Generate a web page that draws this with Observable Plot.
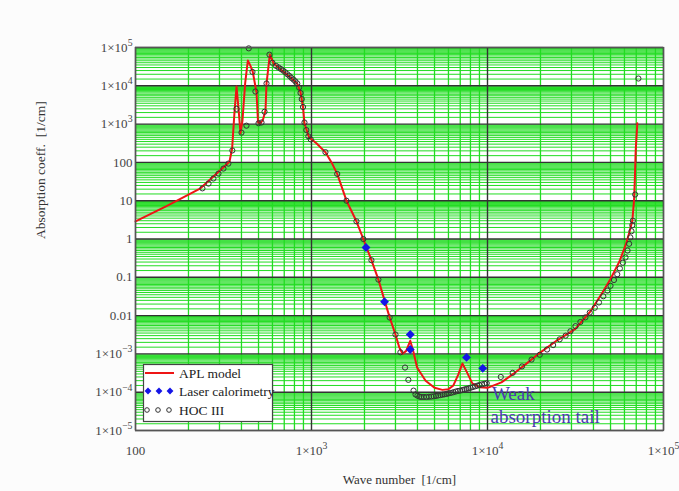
<!DOCTYPE html>
<html>
<head>
<meta charset="utf-8">
<script src="https://cdn.jsdelivr.net/npm/d3@7"></script>
<script src="https://cdn.jsdelivr.net/npm/@observablehq/plot@0.6"></script>
<style>
  body { margin: 0; background: #fcfcfc; }
  #wrap { position: relative; width: 679px; height: 491px; font-family: "Liberation Serif", serif; }
  #legend { position: absolute; left: 0; top: 0; }
</style>
</head>
<body>
<div id="wrap"></div>
<script>
// ---- Data ----
const aplX = [100,150,234,300,342,354,365,375,385,395,405,420,435,450,464,487,497,513,530,548,555,580,611,697,795,830,866,895,912,966,1070,1200,1300,1400,1580,1800,1970,2190,2400,2600,2780,3000,3150,3290,3450,3640,3800,3980,4450,5000,5540,6000,6400,6800,7200,7600,8200,9000,10000,12000,14000,17000,20000,25000,31600,38500,45000,50000,56000,61000,64000,66500,68000,68700,69500,71000];
const aplY = [2.9,7.2,21,60,104,230,2000,9600,2500,580,1200,12000,46000,33000,23000,6800,1100,1050,1300,2300,11300,66000,37500,23000,13800,11300,6800,2800,1050,460,310,185,100,50,10,2.9,1.0,0.28,0.087,0.025,0.009,0.0032,0.0015,0.001,0.0012,0.0022,0.0011,4.4e-4,2.0e-4,1.3e-4,1.15e-4,1.2e-4,1.5e-4,2.8e-4,5.6e-4,3.5e-4,1.7e-4,1.35e-4,1.3e-4,1.8e-4,3.0e-4,6e-4,1.1e-3,2.3e-3,4.5e-3,0.013,0.04,0.09,0.25,0.7,1.5,3,10,34,200,1050];

const hocX = [240,260,277,296,316,337,355,375,400,427,440,462,480,500,520,541,555,577,600,630,650,670,690,710,730,750,770,790,810,830,850,866,880,895,912,935,960,990,1200,1400,1580,1800,1970,2190,2400,2780,3000,3200,3400,3550,3800,3900,4000,4100,4200,4350,4500,4650,4800,4950,5100,5250,5400,5550,5700,5850,6000,6200,6400,6600,6800,7000,7200,7400,7600,7800,8000,8250,8500,8750,9000,9300,9600,9900,11900,13900,15700,17800,19800,21800,23600,25700,27800,29600,31600,33700,36000,38100,40700,43000,45500,48000,50000,52300,54600,56500,58800,60800,62500,63800,64800,65800,66500,67000,69000,72000];
const hocY = [21,28,38,51,69,93,205,2500,600,910,95000,23000,7100,1050,1100,2100,11500,65000,40000,33000,30000,27500,25000,22500,20000,18000,16000,14500,13000,11500,9000,6500,4500,2800,1100,700,480,400,185,50,10,2.9,1.0,0.28,0.087,0.0089,0.0032,0.0011,4.4e-4,2.1e-4,1.1e-4,8.7e-5,8.1e-5,7.7e-5,7.5e-5,7.5e-5,7.5e-5,7.6e-5,7.7e-5,7.8e-5,8.0e-5,8.2e-5,8.4e-5,8.6e-5,8.8e-5,9.0e-5,9.3e-5,9.6e-5,1.0e-4,1.04e-4,1.08e-4,1.1e-4,1.14e-4,1.18e-4,1.22e-4,1.26e-4,1.3e-4,1.36e-4,1.42e-4,1.48e-4,1.54e-4,1.6e-4,1.66e-4,1.72e-4,2.5e-4,3.2e-4,4.7e-4,7.1e-4,9.5e-4,1.3e-3,1.7e-3,2.4e-3,3.0e-3,3.9e-3,5.3e-3,6.8e-3,9e-3,0.012,0.016,0.022,0.032,0.045,0.06,0.085,0.12,0.17,0.24,0.33,0.5,0.75,1.1,1.6,2.3,3.0,14.5,15500];

const laserX = [2040,2600,3640,3640,7600,9400];
const laserY = [0.6,0.023,0.0032,0.0013,8.1e-4,4.2e-4];

const xTicks = [100,1000,10000,100000];
const xTickLabels = ["100","1×10^3","1×10^4","1×10^5"];
const yTicks = [1e-5,1e-4,1e-3,0.01,0.1,1,10,100,1000,1e4,1e5];
const yTickLabels = ["1×10^−5","1×10^−4","1×10^−3","0.01","0.1","1","10","100","1×10^3","1×10^4","1×10^5"];

const seriesNames = ["APL model","Laser calorimetry","HOC III"];
const annotText = ["Weak","absorption tail"];
const annotX = [10600,10400];
const annotY = [9.3e-5,2.2e-5];

const xLabel = "Wave number  [1/cm]";
const yLabel = "Absorption coeff.  [1/cm]";

// ---- Build tables ----
const apl = aplX.map((x,i)=>({x, y: aplY[i]}));
const hoc = hocX.map((x,i)=>({x, y: hocY[i]}));
const laser = laserX.map((x,i)=>({x, y: laserY[i]}));
const annots = annotText.map((t,i)=>({t, x: annotX[i], y: annotY[i]}));

// grid positions
const minorX = [];
for (let d = 2; d < 5; d++) for (let k = 2; k <= 9; k++) minorX.push(k * 10 ** d);
const minorY = [];
for (let d = -5; d < 5; d++) for (let k = 1.5; k < 10; k += 0.5) minorY.push(k * 10 ** d);

const green = "#22dc22";
const chart = Plot.plot({
  width: 679, height: 491,
  marginLeft: 135, marginRight: 16, marginTop: 47, marginBottom: 61,
  style: { fontFamily: "Liberation Serif, serif", fontSize: "13px", background: "transparent", color: "#444" },
  x: { type: "log", domain: [100, 1e5] },
  y: { type: "log", domain: [1e-5, 1e5] },
  marks: [
    Plot.frame({ fill: "white", stroke: null }),
    Plot.ruleY(minorY, { stroke: green, strokeWidth: 1 }),
    Plot.ruleX(minorX, { stroke: green, strokeWidth: 1.3 }),
    Plot.ruleY(yTicks, { stroke: "#333", strokeWidth: 1.4 }),
    Plot.ruleX(xTicks, { stroke: "#333", strokeWidth: 1.4 }),
    Plot.line(apl, { x: "x", y: "y", stroke: "#ee1515", strokeWidth: 2 }),
    Plot.dot(hoc, { x: "x", y: "y", r: 2.6, stroke: "#333", fill: "none", strokeWidth: 1 }),
    Plot.dot(laser, { x: "x", y: "y", symbol: "diamond2", r: 4, fill: "#1515e6", stroke: "none" }),
    Plot.text(annots, { x: "x", y: "y", text: "t", textAnchor: "start", fontSize: 19, fill: "#4a3ab0" }),
    Plot.axisX({ ticks: xTicks, tickFormat: (d) => xTickLabels[xTicks.indexOf(d)], tickSize: 0, tickPadding: 15, label: null }),
    Plot.axisY({ ticks: yTicks, tickFormat: (d) => yTickLabels[yTicks.findIndex(v => Math.abs(Math.log10(v) - Math.log10(d)) < 1e-6)], tickSize: 0, tickPadding: 3, label: null }),
    Plot.frame({ stroke: "#555", strokeWidth: 1.3 }),
    Plot.text([xLabel], { frameAnchor: "bottom", dy: 53, fontSize: 13, fill: "#333" }),
    Plot.text([yLabel], { frameAnchor: "left", dx: -95, rotate: -90, fontSize: 13.5, fill: "#333" })
  ]
});

// superscripts in tick labels
chart.querySelectorAll("text").forEach(t => {
  const s = t.textContent;
  if (s.includes("^")) {
    const [b, e] = s.split("^");
    while (t.firstChild) t.removeChild(t.firstChild);
    const ns = "http://www.w3.org/2000/svg";
    const t1 = document.createElementNS(ns, "tspan"); t1.textContent = b;
    const t2 = document.createElementNS(ns, "tspan"); t2.textContent = e;
    t2.setAttribute("dy", "-0.6em"); t2.setAttribute("font-size", "0.75em");
    t.appendChild(t1); t.appendChild(t2);
  }
});

const wrap = document.getElementById("wrap");
wrap.appendChild(chart);

// legend
const lg = d3.select(wrap).append("svg").attr("id","legend").attr("width",679).attr("height",491)
  .style("pointer-events","none");
lg.append("rect").attr("x",143.5).attr("y",364.5).attr("width",129).attr("height",57)
  .attr("fill","white").attr("stroke","#444").attr("stroke-width",1.2);
lg.append("line").attr("x1",145).attr("x2",174).attr("y1",373).attr("y2",373).attr("stroke","#ee1515").attr("stroke-width",2);
[148,159,170].forEach(cx => lg.append("path").attr("d", d3.symbol(d3.symbolDiamond2, 30)()).attr("transform",`translate(${cx},391)`).attr("fill","#1515e6"));
[147,158,169].forEach(cx => lg.append("circle").attr("cx",cx).attr("cy",410).attr("r",2.3).attr("fill","none").attr("stroke","#333"));
seriesNames.forEach((n,i) => lg.append("text").attr("x",179).attr("y",[373,391,410][i]).attr("dy","0.35em")
  .attr("font-family","Liberation Serif, serif").attr("font-size",13.5).attr("fill","#222").text(n));
</script>
</body>
</html>
